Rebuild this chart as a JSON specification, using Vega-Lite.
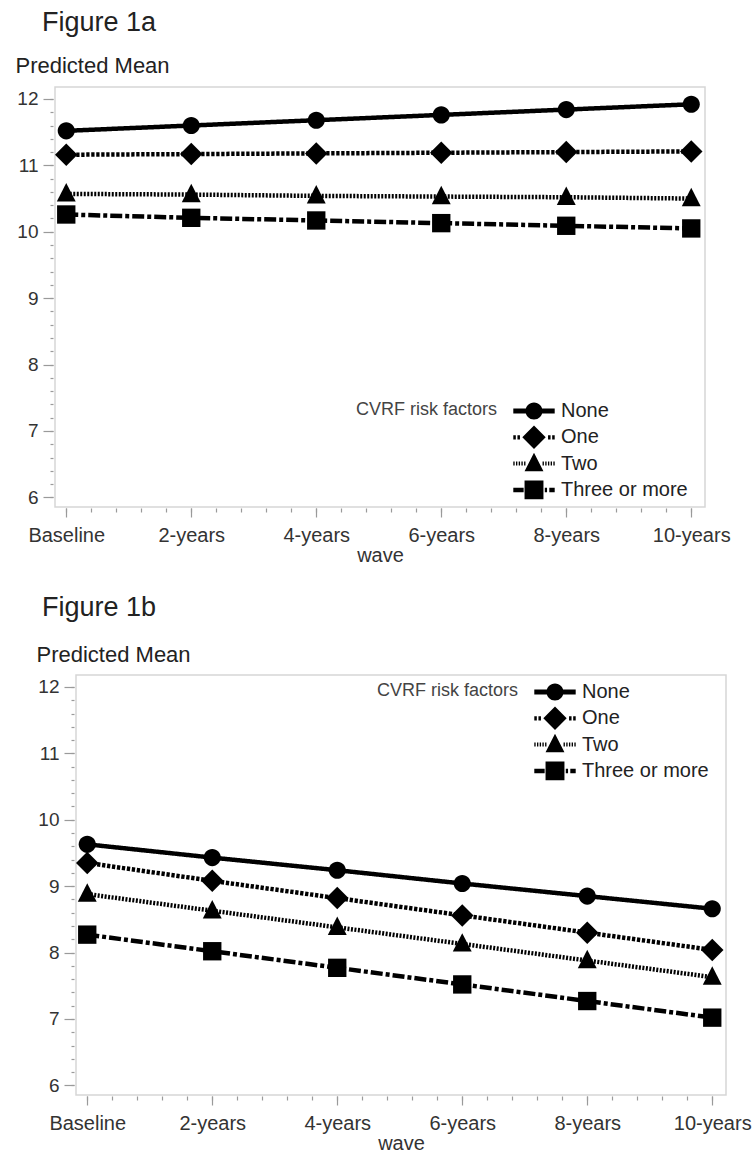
{
  "$schema": "https://vega.github.io/schema/vega-lite/v6.json",
  "padding": {"left": 14, "top": 8, "right": 0, "bottom": 0},
  "spacing": 27,
  "config": {
    "font": "Liberation Sans",
    "view": {"stroke": "#d6d6d6", "strokeWidth": 1.5},
    "axis": {"labelFont": "Liberation Sans", "titleFont": "Liberation Sans", "tickColor": "#9a9a9a", "tickWidth": 1.2, "labelColor": "#333", "titleColor": "#333", "grid": false, "domain": false}
  },
  "datasets": {
    "means": [
      {"panel": "a", "group": "None", "years": 0, "mean": 11.52},
      {"panel": "a", "group": "None", "years": 2, "mean": 11.60},
      {"panel": "a", "group": "None", "years": 4, "mean": 11.68},
      {"panel": "a", "group": "None", "years": 6, "mean": 11.76},
      {"panel": "a", "group": "None", "years": 8, "mean": 11.84},
      {"panel": "a", "group": "None", "years": 10, "mean": 11.92},
      {"panel": "a", "group": "One", "years": 0, "mean": 11.16},
      {"panel": "a", "group": "One", "years": 2, "mean": 11.17},
      {"panel": "a", "group": "One", "years": 4, "mean": 11.18},
      {"panel": "a", "group": "One", "years": 6, "mean": 11.19},
      {"panel": "a", "group": "One", "years": 8, "mean": 11.20},
      {"panel": "a", "group": "One", "years": 10, "mean": 11.21},
      {"panel": "a", "group": "Two", "years": 0, "mean": 10.57},
      {"panel": "a", "group": "Two", "years": 2, "mean": 10.56},
      {"panel": "a", "group": "Two", "years": 4, "mean": 10.54},
      {"panel": "a", "group": "Two", "years": 6, "mean": 10.53},
      {"panel": "a", "group": "Two", "years": 8, "mean": 10.52},
      {"panel": "a", "group": "Two", "years": 10, "mean": 10.50},
      {"panel": "a", "group": "Three or more", "years": 0, "mean": 10.26},
      {"panel": "a", "group": "Three or more", "years": 2, "mean": 10.21},
      {"panel": "a", "group": "Three or more", "years": 4, "mean": 10.17},
      {"panel": "a", "group": "Three or more", "years": 6, "mean": 10.13},
      {"panel": "a", "group": "Three or more", "years": 8, "mean": 10.09},
      {"panel": "a", "group": "Three or more", "years": 10, "mean": 10.05},
      {"panel": "b", "group": "None", "years": 0, "mean": 9.63},
      {"panel": "b", "group": "None", "years": 2, "mean": 9.43},
      {"panel": "b", "group": "None", "years": 4, "mean": 9.24},
      {"panel": "b", "group": "None", "years": 6, "mean": 9.04},
      {"panel": "b", "group": "None", "years": 8, "mean": 8.85},
      {"panel": "b", "group": "None", "years": 10, "mean": 8.66},
      {"panel": "b", "group": "One", "years": 0, "mean": 9.35},
      {"panel": "b", "group": "One", "years": 2, "mean": 9.08},
      {"panel": "b", "group": "One", "years": 4, "mean": 8.82},
      {"panel": "b", "group": "One", "years": 6, "mean": 8.56},
      {"panel": "b", "group": "One", "years": 8, "mean": 8.30},
      {"panel": "b", "group": "One", "years": 10, "mean": 8.04},
      {"panel": "b", "group": "Two", "years": 0, "mean": 8.88},
      {"panel": "b", "group": "Two", "years": 2, "mean": 8.63},
      {"panel": "b", "group": "Two", "years": 4, "mean": 8.38},
      {"panel": "b", "group": "Two", "years": 6, "mean": 8.13},
      {"panel": "b", "group": "Two", "years": 8, "mean": 7.88},
      {"panel": "b", "group": "Two", "years": 10, "mean": 7.63},
      {"panel": "b", "group": "Three or more", "years": 0, "mean": 8.27},
      {"panel": "b", "group": "Three or more", "years": 2, "mean": 8.02},
      {"panel": "b", "group": "Three or more", "years": 4, "mean": 7.77},
      {"panel": "b", "group": "Three or more", "years": 6, "mean": 7.52},
      {"panel": "b", "group": "Three or more", "years": 8, "mean": 7.27},
      {"panel": "b", "group": "Three or more", "years": 10, "mean": 7.02}
    ]
  },
  "vconcat": [
    {
      "width": 650,
      "height": 420,
      "title": {"text": "Figure 1a", "anchor": "start", "frame": "group", "dx": -13, "offset": -4, "baseline": "alphabetic", "fontSize": 27, "fontWeight": "normal", "color": "#222", "font": "Liberation Sans"},
      "data": {"name": "means"},
      "transform": [{"filter": "datum.panel == 'a'"}],
      "resolve": {"scale": {"shape": "independent"}, "axis": {"x": "independent", "y": "independent"}},
      "layer": [
        {
          "mark": {"type": "line", "color": "black", "strokeWidth": 4.5},
          "encoding": {
            "x": {"field": "years", "type": "quantitative", "scale": {"domain": [-0.18, 10.22], "nice": false, "zero": false},
              "axis": {"orient": "bottom", "values": [0, 2, 4, 6, 8, 10], "labelExpr": "datum.value == 0 ? 'Baseline' : datum.value + '-years'", "title": "wave", "tickSize": 9, "offset": 1, "labelFontSize": 20, "labelPadding": 8, "labelFlush": false, "labelOverlap": false, "titleFontSize": 20, "titleFontWeight": "normal", "titlePadding": 0}},
            "y": {"field": "mean", "type": "quantitative", "scale": {"domain": [5.855, 12.18], "nice": false, "zero": false},
              "axis": {"orient": "left", "values": [6, 7, 8, 9, 10, 11, 12], "title": "Predicted Mean", "titleAngle": 0, "titleAlign": "left", "titleBaseline": "alphabetic", "titleX": -38, "titleY": -15, "titleFontSize": 22, "titleFontWeight": "normal", "titleColor": "#222", "tickSize": 10, "offset": 2, "labelFontSize": 19, "labelPadding": 5}},
            "strokeDash": {"field": "group", "type": "nominal", "scale": {"domain": ["None", "One", "Two", "Three or more"], "range": [[1, 0], [3.3, 1.7], [2, 1.5], [12, 3, 4, 3]]}, "legend": null}
          }
        },
        {
          "mark": {"type": "point", "filled": true, "color": "black", "opacity": 1, "size": 324},
          "encoding": {
            "x": {"field": "years", "type": "quantitative", "axis": {"orient": "bottom", "values": [0, 0.4, 0.8, 1.2, 1.6, 2, 2.4, 2.8, 3.2, 3.6, 4, 4.4, 4.8, 5.2, 5.6, 6, 6.4, 6.8, 7.2, 7.6, 8, 8.4, 8.8, 9.2, 9.6, 10], "labels": false, "title": null, "tickSize": 4, "offset": 1}},
            "y": {"field": "mean", "type": "quantitative", "axis": {"orient": "left", "values": [6, 6.2, 6.4, 6.6, 6.8, 7, 7.2, 7.4, 7.6, 7.8, 8, 8.2, 8.4, 8.6, 8.8, 9, 9.2, 9.4, 9.6, 9.8, 10, 10.2, 10.4, 10.6, 10.8, 11, 11.2, 11.4, 11.6, 11.8, 12], "labels": false, "title": null, "tickSize": 3, "offset": 2}},
            "shape": {"field": "group", "type": "nominal", "scale": {"domain": ["None", "One", "Two", "Three or more"], "range": ["M-0.95,0A0.95,0.95,0,1,1,0.95,0A0.95,0.95,0,1,1,-0.95,0Z", "M0,-1.25L1.25,0L0,1.25L-1.25,0Z", "M0,-1.2L1.05,0.85L-1.05,0.85Z", "M-1.02,-1.02H1.02V1.02H-1.02Z"]}, "legend": null}
          }
        },
        {
          "mark": {"type": "point", "filled": true, "color": "black", "opacity": 0, "size": 324},
          "encoding": {
            "x": {"field": "years", "type": "quantitative", "axis": null},
            "y": {"field": "mean", "type": "quantitative", "axis": null},
            "shape": {"field": "group", "type": "nominal",
              "scale": {"domain": ["None", "One", "Two", "Three or more"], "range": [
                "M-2.3,-0.27H-0.8V0.27H-2.3Z M0.8,-0.27H2.3V0.27H0.8Z M-0.95,0A0.95,0.95,0,1,1,0.95,0A0.95,0.95,0,1,1,-0.95,0Z",
                "M-2.3,-0.24H-2.02V0.24H-2.3Z M-1.84,-0.24H-1.56V0.24H-1.84Z M1.56,-0.24H1.84V0.24H1.56Z M2.02,-0.24H2.3V0.24H2.02Z M0,-1.3L1.3,0L0,1.3L-1.3,0Z",
                "M-2.3,-0.22H-2.15V0.22H-2.3Z M-2,-0.22H-1.85V0.22H-2Z M-1.7,-0.22H-1.55V0.22H-1.7Z M-1.4,-0.22H-1.25V0.22H-1.4Z M-1.1,-0.22H-0.95V0.22H-1.1Z M0.95,-0.22H1.1V0.22H0.95Z M1.25,-0.22H1.4V0.22H1.25Z M1.55,-0.22H1.7V0.22H1.55Z M1.85,-0.22H2V0.22H1.85Z M2.15,-0.22H2.3V0.22H2.15Z M0,-1.2L1.05,0.85L-1.05,0.85Z",
                "M-2.3,-0.25H-1.15V0.25H-2.3Z M1.2,-0.25H1.45V0.25H1.2Z M1.7,-0.25H2.3V0.25H1.7Z M-1.05,-1.05H1.05V1.05H-1.05Z"
              ]},
              "legend": {"title": "CVRF risk factors", "orient": "none", "legendX": 301, "legendY": 314, "titleOrient": "left", "titleAnchor": "start", "titleBaseline": "top", "titleFontSize": 18, "titleFontWeight": "normal", "titleColor": "#444", "titlePadding": 26, "labelFontSize": 20, "labelColor": "#222", "labelOffset": 17, "symbolSize": 324, "symbolFillColor": "black", "symbolStrokeWidth": 0, "symbolOpacity": 1, "gridAlign": "all", "rowPadding": 2.3, "padding": 0}
            }
          }
        }
      ]
    },
    {
      "bounds": "flush",
      "spacing": 20,
      "hconcat": [
        {
          "width": 1,
          "height": 1,
          "view": {"stroke": null},
          "data": {"values": []},
          "mark": "point"
        },
        {
          "width": 650,
          "height": 420,
          "title": {"text": "Figure 1b", "anchor": "start", "frame": "group", "dx": -34, "offset": 0, "baseline": "alphabetic", "fontSize": 27, "fontWeight": "normal", "color": "#222", "font": "Liberation Sans"},
          "data": {"name": "means"},
          "transform": [{"filter": "datum.panel == 'b'"}],
          "resolve": {"scale": {"shape": "independent"}, "axis": {"x": "independent", "y": "independent"}},
          "layer": [
            {
              "mark": {"type": "line", "color": "black", "strokeWidth": 4.5},
              "encoding": {
                "x": {"field": "years", "type": "quantitative", "scale": {"domain": [-0.18, 10.22], "nice": false, "zero": false},
                  "axis": {"orient": "bottom", "values": [0, 2, 4, 6, 8, 10], "labelExpr": "datum.value == 0 ? 'Baseline' : datum.value + '-years'", "title": "wave", "tickSize": 9, "offset": 1, "labelFontSize": 20, "labelPadding": 8, "labelFlush": false, "labelOverlap": false, "titleFontSize": 20, "titleFontWeight": "normal", "titlePadding": 0}},
                "y": {"field": "mean", "type": "quantitative", "scale": {"domain": [5.855, 12.18], "nice": false, "zero": false},
                  "axis": {"orient": "left", "values": [6, 7, 8, 9, 10, 11, 12], "title": "Predicted Mean", "titleAngle": 0, "titleAlign": "left", "titleBaseline": "alphabetic", "titleX": -38, "titleY": -14, "titleFontSize": 22, "titleFontWeight": "normal", "titleColor": "#222", "tickSize": 10, "offset": 2, "labelFontSize": 19, "labelPadding": 5}},
                "strokeDash": {"field": "group", "type": "nominal", "scale": {"domain": ["None", "One", "Two", "Three or more"], "range": [[1, 0], [3.3, 1.7], [2, 1.5], [12, 3, 4, 3]]}, "legend": null}
              }
            },
            {
              "mark": {"type": "point", "filled": true, "color": "black", "opacity": 1, "size": 324},
              "encoding": {
                "x": {"field": "years", "type": "quantitative", "axis": {"orient": "bottom", "values": [0, 0.4, 0.8, 1.2, 1.6, 2, 2.4, 2.8, 3.2, 3.6, 4, 4.4, 4.8, 5.2, 5.6, 6, 6.4, 6.8, 7.2, 7.6, 8, 8.4, 8.8, 9.2, 9.6, 10], "labels": false, "title": null, "tickSize": 4, "offset": 1}},
                "y": {"field": "mean", "type": "quantitative", "axis": {"orient": "left", "values": [6, 6.2, 6.4, 6.6, 6.8, 7, 7.2, 7.4, 7.6, 7.8, 8, 8.2, 8.4, 8.6, 8.8, 9, 9.2, 9.4, 9.6, 9.8, 10, 10.2, 10.4, 10.6, 10.8, 11, 11.2, 11.4, 11.6, 11.8, 12], "labels": false, "title": null, "tickSize": 3, "offset": 2}},
                "shape": {"field": "group", "type": "nominal", "scale": {"domain": ["None", "One", "Two", "Three or more"], "range": ["M-0.95,0A0.95,0.95,0,1,1,0.95,0A0.95,0.95,0,1,1,-0.95,0Z", "M0,-1.25L1.25,0L0,1.25L-1.25,0Z", "M0,-1.2L1.05,0.85L-1.05,0.85Z", "M-1.02,-1.02H1.02V1.02H-1.02Z"]}, "legend": null}
              }
            },
            {
              "mark": {"type": "point", "filled": true, "color": "black", "opacity": 0, "size": 324},
              "encoding": {
                "x": {"field": "years", "type": "quantitative", "axis": null},
                "y": {"field": "mean", "type": "quantitative", "axis": null},
                "shape": {"field": "group", "type": "nominal",
                  "scale": {"domain": ["None", "One", "Two", "Three or more"], "range": [
                    "M-2.3,-0.27H-0.8V0.27H-2.3Z M0.8,-0.27H2.3V0.27H0.8Z M-0.95,0A0.95,0.95,0,1,1,0.95,0A0.95,0.95,0,1,1,-0.95,0Z",
                    "M-2.3,-0.24H-2.02V0.24H-2.3Z M-1.84,-0.24H-1.56V0.24H-1.84Z M1.56,-0.24H1.84V0.24H1.56Z M2.02,-0.24H2.3V0.24H2.02Z M0,-1.3L1.3,0L0,1.3L-1.3,0Z",
                    "M-2.3,-0.22H-2.15V0.22H-2.3Z M-2,-0.22H-1.85V0.22H-2Z M-1.7,-0.22H-1.55V0.22H-1.7Z M-1.4,-0.22H-1.25V0.22H-1.4Z M-1.1,-0.22H-0.95V0.22H-1.1Z M0.95,-0.22H1.1V0.22H0.95Z M1.25,-0.22H1.4V0.22H1.25Z M1.55,-0.22H1.7V0.22H1.55Z M1.85,-0.22H2V0.22H1.85Z M2.15,-0.22H2.3V0.22H2.15Z M0,-1.2L1.05,0.85L-1.05,0.85Z",
                    "M-2.3,-0.25H-1.15V0.25H-2.3Z M1.2,-0.25H1.45V0.25H1.2Z M1.7,-0.25H2.3V0.25H1.7Z M-1.05,-1.05H1.05V1.05H-1.05Z"
                  ]},
                  "legend": {"title": "CVRF risk factors", "orient": "none", "legendX": 301, "legendY": 7, "titleOrient": "left", "titleAnchor": "start", "titleBaseline": "top", "titleFontSize": 18, "titleFontWeight": "normal", "titleColor": "#444", "titlePadding": 26, "labelFontSize": 20, "labelColor": "#222", "labelOffset": 17, "symbolSize": 324, "symbolFillColor": "black", "symbolStrokeWidth": 0, "symbolOpacity": 1, "gridAlign": "all", "rowPadding": 2.3, "padding": 0}
                }
              }
            }
          ]
        }
      ]
    }
  ]
}
